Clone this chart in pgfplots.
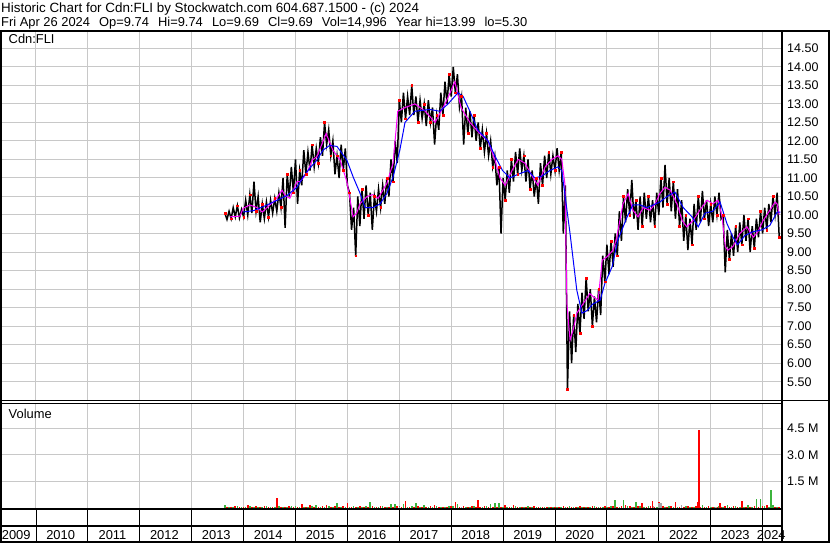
\documentclass[border=0pt]{standalone}
\usepackage{fontspec}
\setmainfont{Liberation Sans}
\usepackage{pgfplots}
\pgfplotsset{compat=1.18}
\usepackage{pgfplotstable}

\definecolor{gridgray}{RGB}{200,200,200}
\definecolor{vgreen}{RGB}{60,180,60}
\definecolor{vgray}{RGB}{165,165,165}
\definecolor{ma1}{RGB}{255,0,255}
\definecolor{ma2}{RGB}{0,0,255}

\pgfplotstableread[row sep=\\]{
x y\\
2013.64 10.05\\ 2013.68 9.88\\ 2013.72 10.10\\ 2013.76 9.90\\ 2013.80 10.20\\ 2013.84 9.95\\ 2013.88 10.25\\ 2013.92 9.92\\ 2013.96 10.15\\ 2014.00 9.95\\
2014.04 10.40\\ 2014.08 10.00\\ 2014.12 10.55\\ 2014.16 10.05\\ 2014.20 10.90\\ 2014.24 10.10\\ 2014.28 10.50\\ 2014.32 9.80\\ 2014.36 10.30\\ 2014.40 9.90\\
2014.44 10.35\\ 2014.48 9.95\\ 2014.52 10.40\\ 2014.56 10.05\\ 2014.60 10.45\\ 2014.64 10.10\\ 2014.68 10.60\\ 2014.72 10.20\\ 2014.76 11.00\\ 2014.80 9.65\\
2014.84 11.10\\ 2014.88 10.50\\ 2014.92 11.30\\ 2014.96 10.60\\ 2015.00 11.50\\ 2015.04 10.30\\ 2015.08 11.20\\ 2015.12 10.80\\ 2015.16 11.75\\ 2015.20 11.10\\
2015.24 11.70\\ 2015.28 11.20\\ 2015.32 11.90\\ 2015.36 11.30\\ 2015.40 11.80\\ 2015.44 11.40\\ 2015.48 12.10\\ 2015.52 11.60\\ 2015.56 12.50\\ 2015.60 11.90\\
2015.64 12.30\\ 2015.68 11.60\\ 2015.72 12.00\\ 2015.76 11.10\\ 2015.80 11.60\\ 2015.84 11.00\\ 2015.88 11.90\\ 2015.92 11.20\\ 2015.96 11.80\\ 2016.00 10.80\\
2016.04 10.60\\ 2016.08 9.60\\ 2016.12 10.20\\ 2016.16 8.90\\ 2016.20 10.50\\ 2016.24 9.70\\ 2016.28 10.70\\ 2016.32 9.90\\ 2016.36 10.80\\ 2016.40 10.00\\
2016.44 10.60\\ 2016.48 9.60\\ 2016.52 10.50\\ 2016.56 10.10\\ 2016.60 10.70\\ 2016.64 10.20\\ 2016.68 10.80\\ 2016.72 10.30\\ 2016.76 11.00\\ 2016.80 10.50\\
2016.84 11.50\\ 2016.88 10.90\\ 2016.92 12.00\\ 2016.96 11.40\\ 2017.00 13.10\\ 2017.04 12.50\\ 2017.08 13.30\\ 2017.12 12.60\\ 2017.16 13.20\\ 2017.20 12.70\\
2017.24 13.50\\ 2017.28 12.70\\ 2017.32 13.20\\ 2017.36 12.50\\ 2017.40 13.10\\ 2017.44 12.60\\ 2017.48 13.00\\ 2017.52 12.40\\ 2017.56 13.10\\ 2017.60 12.50\\
2017.64 12.90\\ 2017.68 11.90\\ 2017.72 12.70\\ 2017.76 12.30\\ 2017.80 13.30\\ 2017.84 12.70\\ 2017.88 13.60\\ 2017.92 13.00\\ 2017.96 13.80\\ 2018.00 13.20\\
2018.04 14.00\\ 2018.08 13.30\\ 2018.12 13.80\\ 2018.16 12.90\\ 2018.20 13.20\\ 2018.24 11.90\\ 2018.28 12.90\\ 2018.32 12.20\\ 2018.36 12.80\\ 2018.40 12.10\\
2018.44 12.70\\ 2018.48 12.00\\ 2018.52 12.50\\ 2018.56 11.80\\ 2018.60 12.30\\ 2018.64 11.70\\ 2018.68 12.20\\ 2018.72 11.60\\ 2018.76 12.00\\ 2018.80 11.30\\
2018.84 11.60\\ 2018.88 10.80\\ 2018.92 11.30\\ 2018.96 9.50\\ 2019.00 11.00\\ 2019.04 10.40\\ 2019.08 11.20\\ 2019.12 10.60\\ 2019.16 11.50\\ 2019.20 10.90\\
2019.24 11.70\\ 2019.28 11.10\\ 2019.32 11.80\\ 2019.36 11.20\\ 2019.40 11.60\\ 2019.44 10.90\\ 2019.48 11.50\\ 2019.52 10.70\\ 2019.56 11.20\\ 2019.60 10.50\\
2019.64 11.00\\ 2019.68 10.30\\ 2019.72 11.40\\ 2019.76 10.80\\ 2019.80 11.60\\ 2019.84 11.00\\ 2019.88 11.70\\ 2019.92 11.10\\ 2019.96 11.60\\ 2020.00 11.20\\
2020.04 11.80\\ 2020.08 11.20\\ 2020.12 11.70\\ 2020.16 9.50\\ 2020.20 10.80\\ 2020.24 5.30\\ 2020.28 7.40\\ 2020.32 6.00\\ 2020.36 7.30\\ 2020.40 6.30\\
2020.44 7.60\\ 2020.48 6.80\\ 2020.52 7.90\\ 2020.56 7.20\\ 2020.60 8.30\\ 2020.64 7.40\\ 2020.68 8.00\\ 2020.72 7.00\\ 2020.76 7.80\\ 2020.80 7.10\\
2020.84 8.00\\ 2020.88 7.30\\ 2020.92 8.90\\ 2020.96 8.20\\ 2021.00 9.20\\ 2021.04 8.40\\ 2021.08 9.30\\ 2021.12 8.60\\ 2021.16 9.50\\ 2021.20 8.90\\
2021.24 10.10\\ 2021.28 9.30\\ 2021.32 10.50\\ 2021.36 9.80\\ 2021.40 10.70\\ 2021.44 10.00\\ 2021.48 10.95\\ 2021.52 9.90\\ 2021.56 10.40\\ 2021.60 9.60\\
2021.64 10.50\\ 2021.68 9.70\\ 2021.72 10.60\\ 2021.76 9.90\\ 2021.80 10.50\\ 2021.84 9.80\\ 2021.88 10.40\\ 2021.92 9.70\\ 2021.96 10.60\\ 2022.00 10.00\\
2022.04 11.00\\ 2022.08 10.20\\ 2022.12 11.35\\ 2022.16 10.30\\ 2022.20 11.00\\ 2022.24 10.10\\ 2022.28 10.90\\ 2022.32 9.90\\ 2022.36 10.70\\ 2022.40 9.70\\
2022.44 10.40\\ 2022.48 9.30\\ 2022.52 10.00\\ 2022.56 9.05\\ 2022.60 9.90\\ 2022.64 9.20\\ 2022.68 10.30\\ 2022.72 9.60\\ 2022.76 10.50\\ 2022.80 9.80\\
2022.84 10.65\\ 2022.88 9.90\\ 2022.92 10.40\\ 2022.96 9.70\\ 2023.00 10.30\\ 2023.04 9.80\\ 2023.08 10.50\\ 2023.12 10.00\\ 2023.16 10.60\\ 2023.20 9.90\\
2023.24 10.00\\ 2023.28 8.45\\ 2023.32 9.60\\ 2023.36 8.80\\ 2023.40 9.50\\ 2023.44 8.90\\ 2023.48 9.70\\ 2023.52 9.00\\ 2023.56 9.80\\ 2023.60 9.20\\
2023.64 10.00\\ 2023.68 9.30\\ 2023.72 9.90\\ 2023.76 9.00\\ 2023.80 9.70\\ 2023.84 9.10\\ 2023.88 9.90\\ 2023.92 9.40\\ 2023.96 10.10\\ 2024.00 9.50\\
2024.04 10.20\\ 2024.08 9.60\\ 2024.12 10.30\\ 2024.16 9.80\\ 2024.20 10.50\\ 2024.24 10.00\\ 2024.28 10.60\\ 2024.32 9.40\\
}\price

\pgfplotsset{chartbase/.style={
  scale only axis, width=779.7bp,
  xmin=2009.345, xmax=2024.368,
  axis line style={draw=none}, tick style={draw=none},
  xtick={2010,2011,...,2024}, xmajorticks=false,
  xmajorgrids=true, ymajorgrids=true, major grid style={gridgray, line width=1bp},
  yticklabel pos=right,
  /pgf/number format/assume math mode=true,
  ticklabel style={font=\fontsize{12.5bp}{15bp}\selectfont},
  yticklabel style={anchor=west, inner sep=0pt, xshift=5.3bp},
}}

\begin{document}
\begin{tikzpicture}[font=\fontsize{12.9bp}{15bp}\selectfont]
\path[use as bounding box, fill=white] (0bp,0bp) rectangle (830bp,543bp);

% price panel
\begin{axis}[chartbase, at={(2bp,142bp)}, anchor=south west, height=370bp,
  ymin=4.979, ymax=14.967,
  ytick={5.5,6,6.5,7,7.5,8,8.5,9,9.5,10,10.5,11,11.5,12,12.5,13,13.5,14,14.5},
  yticklabel style={/pgf/number format/.cd, fixed, fixed zerofill, precision=2}]
\addplot[black, line width=1.5bp] table {\price};
\addplot[only marks, mark=square*, mark size=0.9bp, red, each nth point=3] table {\price};
\addplot[ma1, line width=1bp] coordinates {
(2013.74,9.95) (2013.93,9.97) (2013.99,10.18) (2014.12,10.27) (2014.26,10.2) (2014.36,10.08) (2014.45,10.2) (2014.61,10.4) (2014.74,10.67) (2014.80,10.53) (2014.89,10.45) (2015.03,10.9) (2015.09,10.9) (2015.22,11.13) (2015.32,11.48) (2015.41,11.57) (2015.59,12.2) (2015.72,11.75) (2015.86,11.48) (2015.99,10.9) (2016.11,9.95) (2016.18,10.05) (2016.24,10.3) (2016.38,10.5) (2016.49,10.55) (2016.59,10.45) (2016.76,10.85) (2016.88,11.4) (2016.97,12.8) (2017.11,12.9) (2017.30,13.0) (2017.50,12.8) (2017.69,12.5) (2017.88,13.0) (2017.98,13.3) (2018.07,13.6) (2018.19,12.9) (2018.36,12.5) (2018.55,12.2) (2018.71,12.0) (2018.84,11.5) (2018.94,11.0) (2019.04,10.8) (2019.17,11.2) (2019.29,11.5) (2019.42,11.4) (2019.58,11.0) (2019.67,10.8) (2019.81,11.3) (2019.94,11.5) (2020.06,11.6) (2020.13,11.5) (2020.19,10.85) (2020.23,7.6) (2020.29,6.62) (2020.35,6.9) (2020.42,7.35) (2020.54,7.6) (2020.67,7.88) (2020.73,7.8) (2020.83,7.7) (2020.91,8.78) (2021.00,8.87) (2021.12,9.05) (2021.19,9.4) (2021.31,10.3) (2021.41,10.58) (2021.50,10.13) (2021.60,9.95) (2021.70,10.2) (2021.83,10.13) (2021.93,10.3) (2022.02,10.58) (2022.12,10.75) (2022.22,10.67) (2022.35,10.3) (2022.45,9.85) (2022.54,9.68) (2022.66,9.85) (2022.79,10.13) (2022.93,10.4) (2023.04,10.3) (2023.14,10.4) (2023.22,9.95) (2023.28,9.15) (2023.33,9.05) (2023.43,9.15) (2023.56,9.5) (2023.70,9.68) (2023.82,9.4) (2023.91,9.55) (2024.01,9.85) (2024.14,10.13) (2024.24,10.35) (2024.28,10.3) (2024.32,10.0)};
\addplot[ma2, line width=1bp] coordinates {
(2013.99,10.08) (2014.20,10.12) (2014.45,10.27) (2014.65,10.4) (2014.84,10.53) (2015.03,10.75) (2015.15,11.03) (2015.28,11.27) (2015.41,11.48) (2015.53,11.75) (2015.66,11.88) (2015.80,11.85) (2015.99,11.48) (2016.11,11.03) (2016.24,10.6) (2016.34,10.2) (2016.49,10.2) (2016.63,10.3) (2016.76,10.58) (2016.88,11.03) (2017.01,11.75) (2017.11,12.5) (2017.30,12.8) (2017.59,12.85) (2017.78,12.8) (2017.94,13.0) (2018.13,13.3) (2018.23,13.2) (2018.36,12.8) (2018.51,12.3) (2018.71,12.0) (2018.84,11.6) (2018.99,11.2) (2019.13,11.0) (2019.29,11.1) (2019.48,11.2) (2019.61,11.0) (2019.75,11.05) (2019.90,11.2) (2020.06,11.3) (2020.13,11.2) (2020.29,9.5) (2020.42,7.97) (2020.52,7.35) (2020.62,7.42) (2020.73,7.6) (2020.87,7.7) (2020.96,8.15) (2021.10,8.6) (2021.21,9.32) (2021.39,9.95) (2021.50,10.27) (2021.64,10.27) (2021.77,10.2) (2021.89,10.27) (2022.02,10.35) (2022.16,10.5) (2022.31,10.62) (2022.47,10.2) (2022.64,9.95) (2022.76,9.68) (2022.89,10.05) (2023.04,10.1) (2023.18,10.35) (2023.31,9.78) (2023.43,9.4) (2023.52,9.2) (2023.66,9.45) (2023.82,9.55) (2023.99,9.6) (2024.14,9.72) (2024.28,10.08) (2024.34,10.08)};
\end{axis}

% volume panel
\begin{axis}[chartbase, at={(2bp,34.7bp)}, anchor=south west, height=104.3bp,
  ymin=0, ymax=5.866, ytick={1.5,3,4.5}, yticklabels={1.5 M,3.0 M,4.5 M}]
\addplot[ycomb, vgreen, line width=1.6bp] coordinates {
(2013.64,0.18) (2013.72,0.10) (2013.80,0.07) (2013.88,0.12) (2013.96,0.06)
(2014.04,0.09) (2014.12,0.13) (2014.20,0.07) (2014.28,0.10) (2014.36,0.05) (2014.44,0.12) (2014.52,0.08) (2014.60,0.06) (2014.68,0.14) (2014.76,0.09) (2014.84,0.07) (2014.92,0.11)
(2015.00,0.13) (2015.08,0.06) (2015.16,0.10) (2015.24,0.08) (2015.32,0.12) (2015.40,0.16) (2015.48,0.07) (2015.56,0.09) (2015.64,0.11) (2015.72,0.06) (2015.80,0.30) (2015.88,0.08) (2015.96,0.10)
(2016.04,0.07) (2016.12,0.12) (2016.20,0.09) (2016.28,0.06) (2016.36,0.11) (2016.44,0.34) (2016.52,0.08) (2016.60,0.10) (2016.68,0.13) (2016.76,0.07) (2016.84,0.25) (2016.92,0.24)
(2017.00,0.15) (2017.08,0.22) (2017.16,0.09) (2017.24,0.12) (2017.32,0.29) (2017.40,0.08) (2017.48,0.16) (2017.56,0.06) (2017.64,0.10) (2017.72,0.12) (2017.80,0.07) (2017.88,0.09) (2017.96,0.11)
(2018.04,0.14) (2018.12,0.25) (2018.20,0.08) (2018.28,0.10) (2018.36,0.06) (2018.44,0.12) (2018.52,0.09) (2018.60,0.07) (2018.68,0.11) (2018.76,0.22) (2018.84,0.30) (2018.92,0.27)
(2019.00,0.08) (2019.08,0.10) (2019.16,0.06) (2019.24,0.15) (2019.32,0.07) (2019.40,0.09) (2019.48,0.12) (2019.56,0.05) (2019.64,0.08) (2019.72,0.06) (2019.80,0.10) (2019.88,0.07) (2019.96,0.09)
(2020.04,0.06) (2020.12,0.10) (2020.20,0.08) (2020.28,0.12) (2020.36,0.07) (2020.44,0.05) (2020.52,0.09) (2020.60,0.06) (2020.68,0.08) (2020.76,0.11) (2020.84,0.07) (2020.92,0.10)
(2021.00,0.08) (2021.08,0.12) (2021.16,0.46) (2021.24,0.10) (2021.32,0.46) (2021.40,0.14) (2021.48,0.09) (2021.56,0.33) (2021.64,0.12) (2021.72,0.08) (2021.80,0.15) (2021.88,0.10) (2021.96,0.07)
(2022.04,0.13) (2022.12,0.09) (2022.20,0.11) (2022.28,0.06) (2022.36,0.10) (2022.44,0.08) (2022.52,0.12) (2022.60,0.07) (2022.68,0.09) (2022.76,0.11) (2022.84,0.20) (2022.92,0.08)
(2023.00,0.10) (2023.08,0.07) (2023.16,0.12) (2023.24,0.09) (2023.32,0.20) (2023.40,0.08) (2023.48,0.11) (2023.56,0.06) (2023.64,0.10) (2023.72,0.18) (2023.80,0.09) (2023.88,0.52) (2023.96,0.52)
(2024.04,0.12) (2024.12,0.10) (2024.16,1.03) (2024.20,0.20) (2024.28,0.09)};
\addplot[ycomb, red, line width=1.6bp] coordinates {
(2013.68,0.06) (2013.76,0.09) (2013.84,0.12) (2013.92,0.07) (2014.00,0.10)
(2014.08,0.18) (2014.16,0.08) (2014.24,0.11) (2014.32,0.06) (2014.40,0.13) (2014.48,0.09) (2014.56,0.07) (2014.64,0.57) (2014.72,0.10) (2014.80,0.08) (2014.88,0.12) (2014.96,0.06)
(2015.04,0.09) (2015.12,0.25) (2015.20,0.07) (2015.28,0.18) (2015.36,0.10) (2015.44,0.08) (2015.52,0.13) (2015.60,0.18) (2015.68,0.07) (2015.76,0.11) (2015.84,0.09) (2015.92,0.14)
(2016.00,0.32) (2016.08,0.10) (2016.16,0.07) (2016.24,0.12) (2016.32,0.09) (2016.40,0.06) (2016.48,0.11) (2016.56,0.08) (2016.64,0.13) (2016.72,0.07) (2016.80,0.10) (2016.88,0.09) (2016.96,0.12)
(2017.04,0.08) (2017.12,0.42) (2017.20,0.10) (2017.28,0.07) (2017.36,0.12) (2017.44,0.09) (2017.52,0.06) (2017.60,0.11) (2017.68,0.18) (2017.76,0.08) (2017.84,0.10) (2017.92,0.07)
(2018.00,0.12) (2018.08,0.33) (2018.16,0.09) (2018.24,0.11) (2018.32,0.07) (2018.40,0.13) (2018.48,0.10) (2018.52,0.46) (2018.56,0.08) (2018.64,0.12) (2018.72,0.06) (2018.80,0.10) (2018.88,0.09) (2018.96,0.07)
(2019.04,0.20) (2019.12,0.08) (2019.20,0.18) (2019.28,0.06) (2019.36,0.10) (2019.44,0.07) (2019.52,0.09) (2019.60,0.12) (2019.68,0.05) (2019.76,0.08) (2019.84,0.10) (2019.92,0.06)
(2020.00,0.09) (2020.08,0.07) (2020.16,0.12) (2020.24,0.10) (2020.32,0.06) (2020.40,0.08) (2020.48,0.11) (2020.56,0.07) (2020.64,0.09) (2020.72,0.12) (2020.80,0.06) (2020.88,0.10) (2020.96,0.14)
(2021.04,0.09) (2021.12,0.11) (2021.20,0.08) (2021.28,0.12) (2021.36,0.18) (2021.44,0.15) (2021.52,0.10) (2021.60,0.13) (2021.68,0.27) (2021.76,0.09) (2021.84,0.12) (2021.88,0.40) (2021.92,0.08)
(2022.00,0.33) (2022.08,0.11) (2022.16,0.09) (2022.24,0.13) (2022.32,0.33) (2022.40,0.10) (2022.48,0.08) (2022.56,0.12) (2022.64,0.09) (2022.72,0.14) (2022.75,0.36) (2022.78,4.40) (2022.80,0.10) (2022.88,0.07) (2022.96,0.11)
(2023.04,0.08) (2023.12,0.10) (2023.18,0.30) (2023.20,0.07) (2023.28,0.12) (2023.36,0.09) (2023.44,0.14) (2023.52,0.08) (2023.60,0.40) (2023.68,0.10) (2023.76,0.07) (2023.84,0.12) (2023.92,0.09)
(2024.00,0.11) (2024.08,0.18) (2024.24,0.10) (2024.32,0.08)};
\addplot[ycomb, vgray, line width=1.6bp] coordinates {
(2014.90,0.10) (2017.00,0.08) (2018.20,0.07) (2021.90,0.15) (2022.00,0.27) (2022.04,0.27) (2022.44,0.18) (2023.10,0.10)};
\end{axis}

% frame
\draw[line width=2bp] (0bp,512.25bp) -- (830bp,512.25bp);
\draw[line width=2bp] (1bp,0bp) -- (1bp,513bp);
\draw[line width=2bp] (781.7bp,0bp) -- (781.7bp,513bp);
\draw[line width=2bp] (829bp,0bp) -- (829bp,513bp);
\draw[line width=1bp] (0bp,142bp) -- (830bp,142bp);
\draw[line width=1bp] (0bp,139bp) -- (781.7bp,139bp);
\draw[line width=2bp] (0bp,33.7bp) -- (781.7bp,33.7bp);
\draw[line width=2bp] (0bp,17bp) -- (781.7bp,17bp);
\draw[line width=2bp] (0bp,1bp) -- (830bp,1bp);
\foreach \yr in {2010,...,2024} {
  \draw[line width=1bp] ({36bp+(\yr-2010)*51.9bp},1bp) -- ({36bp+(\yr-2010)*51.9bp},34bp);
}

% year labels
\node[anchor=base, inner sep=0pt] at (16.2bp,3.5bp) {2009};
\foreach \yr in {2010,...,2023} {
  \node[anchor=base, inner sep=0pt] at ({36bp+(\yr-2010)*51.9bp+24.6bp},3.5bp) {\yr};
}
\node[anchor=base, inner sep=0pt] at (771.3bp,3.5bp) {2024};

% texts
\node[anchor=base west, inner sep=0pt, font=\fontsize{13.4bp}{15bp}\selectfont] at (1bp,530.3bp) {Historic Chart for Cdn:FLI by Stockwatch.com 604.687.1500 - (c) 2024};
\node[anchor=base west, inner sep=0pt] at (1bp,516.3bp) {Fri Apr 26 2024\hspace{5.5bp} Op=9.74\hspace{5.5bp} Hi=9.74\hspace{5.5bp} Lo=9.69\hspace{5.5bp} Cl=9.69\hspace{5.5bp} Vol=14,996\hspace{5.5bp} Year hi=13.99\hspace{5.5bp} lo=5.30};
\node[anchor=base west, inner sep=0pt] at (8.5bp,499.5bp) {Cdn:FLI};
\node[anchor=base west, inner sep=0pt] at (8.5bp,124.7bp) {Volume};
\end{tikzpicture}
\end{document}
